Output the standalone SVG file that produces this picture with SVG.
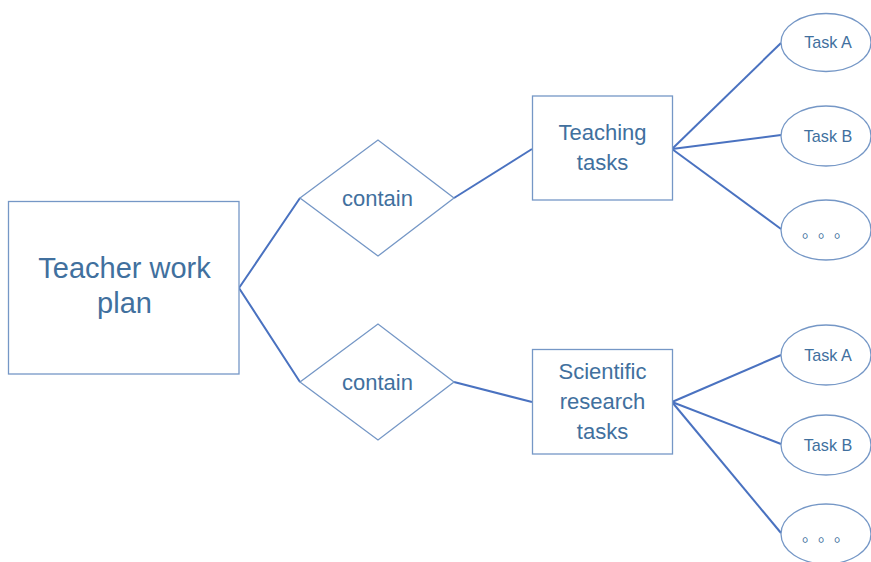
<svg xmlns="http://www.w3.org/2000/svg" width="871" height="562" viewBox="0 0 871 562">
<style>
.shape{fill:#fff;stroke:#7597c6;stroke-width:1.3}
.conn{stroke:#4a72c0;stroke-width:2;fill:none}
text{font-family:"Liberation Sans",Arial,sans-serif;fill:#41709e;text-anchor:middle}
.big{font-size:29px}
.mid{font-size:22px}
.sm{font-size:16.2px}
.dots{font-family:"Noto Sans CJK SC",sans-serif;font-size:16px;text-anchor:start;letter-spacing:8px}
</style>
<rect width="871" height="562" fill="#fff"/>
<g id="connectors">
<polyline class="conn" points="300,198 239,288 300,382"/>
<line class="conn" x1="454" y1="198" x2="532" y2="149"/>
<line class="conn" x1="454" y1="382" x2="532" y2="402"/>
<line class="conn" x1="672" y1="149" x2="781" y2="43"/>
<line class="conn" x1="672" y1="149" x2="781" y2="135"/>
<line class="conn" x1="672" y1="149" x2="781" y2="229"/>
<line class="conn" x1="672" y1="402" x2="781" y2="355"/>
<line class="conn" x1="672" y1="402" x2="781" y2="444"/>
<line class="conn" x1="672" y1="402" x2="781" y2="533"/>
</g>
<g id="teacher-work-plan">
<rect class="shape" x="8.5" y="201.5" width="230.5" height="172.5"/>
<text class="big" x="124.5" y="278">Teacher work</text>
<text class="big" x="124.5" y="313">plan</text>
</g>
<g id="contain-1">
<polygon class="shape" points="300,198 378,140 454,198 378,256"/>
<text class="mid" x="377.5" y="206">contain</text>
</g>
<g id="contain-2">
<polygon class="shape" points="300,382 378,324 454,382 378,440"/>
<text class="mid" x="377.5" y="390">contain</text>
</g>
<g id="teaching-tasks">
<rect class="shape" x="532.5" y="96" width="140" height="104"/>
<text class="mid" x="602.5" y="139.5">Teaching</text>
<text class="mid" x="602.5" y="170">tasks</text>
</g>
<g id="scientific-research-tasks">
<rect class="shape" x="532.5" y="349.5" width="140" height="104.5"/>
<text class="mid" x="602.5" y="378.5">Scientific</text>
<text class="mid" x="602.5" y="408.5">research</text>
<text class="mid" x="602.5" y="438.5">tasks</text>
</g>
<g id="task-a-1">
<ellipse class="shape" cx="826" cy="42.5" rx="45" ry="29"/>
<text class="sm" x="828" y="48">Task A</text>
</g>
<g id="task-b-1">
<ellipse class="shape" cx="826" cy="136" rx="45" ry="30"/>
<text class="sm" x="828" y="141.5">Task B</text>
</g>
<g id="etc-1">
<ellipse class="shape" cx="826" cy="230" rx="45" ry="30"/>
<text class="dots" x="802" y="237">。。。</text>
</g>
<g id="task-a-2">
<ellipse class="shape" cx="826" cy="355" rx="45" ry="30"/>
<text class="sm" x="828" y="360.5">Task A</text>
</g>
<g id="task-b-2">
<ellipse class="shape" cx="826" cy="445" rx="45" ry="30"/>
<text class="sm" x="828" y="450.5">Task B</text>
</g>
<g id="etc-2">
<ellipse class="shape" cx="826" cy="534" rx="45" ry="30"/>
<text class="dots" x="802" y="541">。。。</text>
</g>
</svg>
